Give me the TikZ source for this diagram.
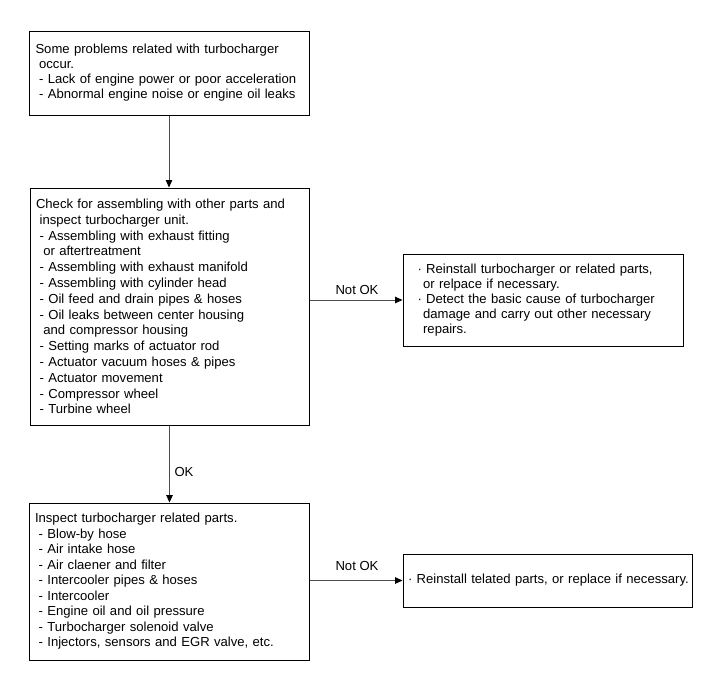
\documentclass[tikz,border=0pt]{standalone}
\usepackage{fontspec}
\setmainfont{Liberation Sans}
\usetikzlibrary{arrows.meta}
\newcommand{\ind}{\hspace*{3.65pt}}
\newcommand{\cind}{\hspace*{5.6pt}}
\begin{document}
\begin{tikzpicture}[x=1pt,y=-1pt,
  every node/.style={font=\fontsize{13.1}{15.5}\selectfont},
  box/.style={draw=black,line width=1pt,rectangle,align=left,inner ysep=0pt,anchor=center},
  conn/.style={draw=black!70,line width=0.9pt,-{Triangle[length=7.5pt,width=6.5pt,color=black,fill=black]}},
  lbl/.style={inner sep=0pt}]
\useasboundingbox (0,0) rectangle (703,689);
\node[box,inner xsep=6.5pt,text width=267pt,minimum width=280pt,minimum height=84pt,font=\fontsize{13.1}{15}\selectfont] (b1) at (169,73)
 {Some problems related with turbocharger\\
  \ind occur.\\
  \ind - Lack of engine power or poor acceleration\\
  \ind - Abnormal engine noise or engine oil leaks};
\node[box,inner xsep=6pt,text width=267pt,minimum width=279pt,minimum height=237pt,font=\fontsize{13.1}{15.8}\selectfont] (b2) at (169.5,306.5)
 {Check for assembling with other parts and\\
  \ind inspect turbocharger unit.\\
  \ind - Assembling with exhaust fitting\\
  \ind\ind or aftertreatment\\
  \ind - Assembling with exhaust manifold\\
  \ind - Assembling with cylinder head\\
  \ind - Oil feed and drain pipes \& hoses\\
  \ind - Oil leaks between center housing\\
  \ind\ind and compressor housing\\
  \ind - Setting marks of actuator rod\\
  \ind - Actuator vacuum hoses \& pipes\\
  \ind - Actuator movement\\
  \ind - Compressor wheel\\
  \ind - Turbine wheel};
\node[box,inner xsep=6pt,text width=268pt,minimum width=280pt,minimum height=157pt] (b3) at (169,581.5)
 {Inspect turbocharger related parts.\\
  \ind - Blow-by hose\\
  \ind - Air intake hose\\
  \ind - Air claener and filter\\
  \ind - Intercooler pipes \& hoses\\
  \ind - Intercooler\\
  \ind - Engine oil and oil pressure\\
  \ind - Turbocharger solenoid valve\\
  \ind - Injectors, sensors and EGR valve, etc.};
\node[box,inner xsep=14.5pt,text width=251pt,minimum width=280pt,minimum height=92pt,font=\fontsize{13.1}{15}\selectfont] (r1) at (543,300)
 {· Reinstall turbocharger or related parts,\\
  \cind or relpace if necessary.\\
  · Detect the basic cause of turbocharger\\
  \cind damage and carry out other necessary\\
  \cind repairs.};
\node[box,inner xsep=5pt,text width=279pt,minimum width=289pt,minimum height=53pt] (r2) at (547.5,580.5)
 {\mbox{· Reinstall telated parts, or replace if necessary.}};
\draw[conn] (b1.south) -- (b1.south |- b2.north);
\draw[conn] (b2.south) -- (b2.south |- b3.north);
\draw[conn] (b2.east |- r1.west) -- (r1.west);
\draw[conn] (b3.east |- r2.west) -- (r2.west);
\node[lbl] (ok) at (184,472) {OK};
\node[lbl] (nok1) at (357,290) {Not OK};
\node[lbl] (nok2) at (357,566) {Not OK};
\end{tikzpicture}
\end{document}
